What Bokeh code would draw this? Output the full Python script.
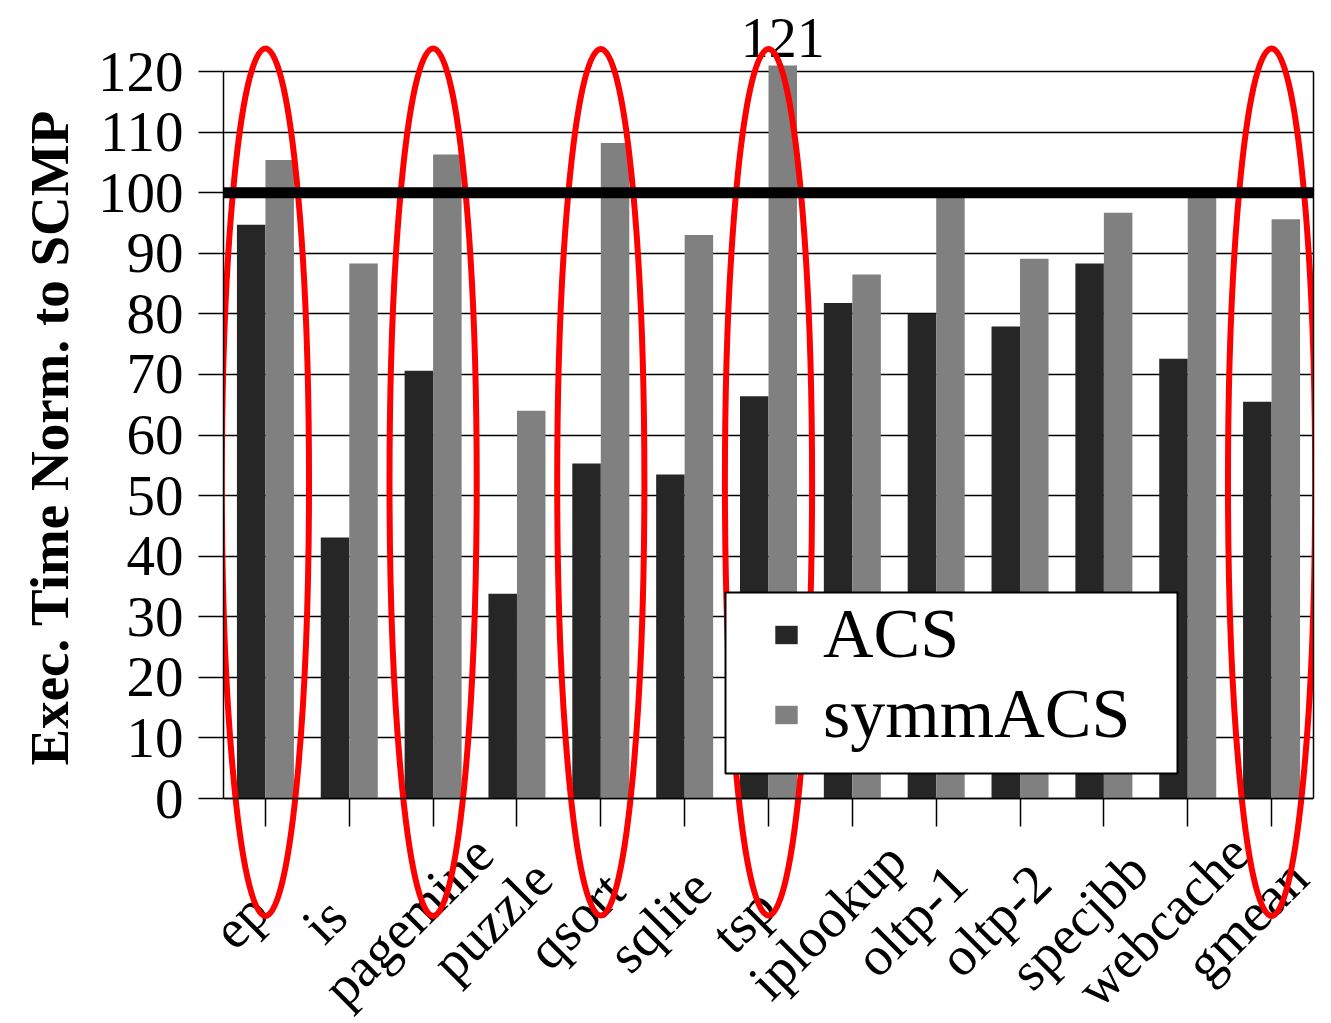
import numpy as np
from bokeh.plotting import figure
from bokeh.models import (Range1d, FixedTicker, Span, Legend, LegendItem, LinearAxis,
                          BoxAnnotation, ColumnDataSource, Grid, Title)
from bokeh.core.properties import value
from bokeh.embed import file_html
from bokeh.resources import INLINE

categories = ["ep", "is", "pagemine", "puzzle", "qsort", "sqlite", "tsp",
              "iplookup", "oltp-1", "oltp-2", "specjbb", "webcache", "gmean"]
acs = [94.7, 43.1, 70.6, 33.8, 55.3, 53.5, 66.4, 81.8, 80.0, 77.9, 88.3, 72.6, 65.5]
symm_acs = [105.4, 88.3, 106.3, 64.0, 108.2, 93.0, 121.0, 86.5, 99.3, 89.1, 96.7, 99.3, 95.6]
y_ticks = list(range(0, 121, 10))
highlighted = ["ep", "pagemine", "qsort", "tsp", "gmean"]
baseline_value = 100
y_title = "Exec. Time Norm. to SCMP"

SERIF = "Liberation Serif"
DARK = "#262626"
GRAY = "#808080"

# layout (canvas pixels)
W, H = 1331, 1023
LEFT, RIGHT_BORDER, BOTTOM_BORDER = 223, 18, 0
Y0_PX, Y120_PX = 798, 71            # canvas rows of value 0 and value 120
frame_h = H - BOTTOM_BORDER
s = (Y0_PX - Y120_PX) / 120.0       # px per unit
y_end = 120 + Y120_PX / s
y_start = -(frame_h - Y0_PX) / s

n = len(categories)
centers = np.arange(n) + 0.5
src = ColumnDataSource(dict(x_acs=centers - 0.17, x_sym=centers + 0.17,
                            acs=acs, sym=symm_acs, cat=categories, xc=centers))

p = figure(width=W, height=H, output_backend="svg", toolbar_location=None,
           x_range=Range1d(0, n), y_range=Range1d(y_start, y_end),
           min_border_left=LEFT, min_border_right=RIGHT_BORDER, min_border_top=0,
           min_border_bottom=BOTTOM_BORDER, x_axis_location=None, y_axis_location=None)
p.background_fill_color = "white"
p.border_fill_color = "white"
p.outline_line_color = None
for g in p.grid:
    g.visible = False

r1 = p.vbar(x="x_acs", top="acs", width=0.34, source=src, fill_color=DARK, line_color=None)
r2 = p.vbar(x="x_sym", top="sym", width=0.34, source=src, fill_color=GRAY, line_color=None)

# left y axis
yax = LinearAxis(bounds=(0, 120), ticker=FixedTicker(ticks=y_ticks))
yax.major_tick_out = 25
yax.major_tick_in = 0
yax.minor_tick_line_color = None
yax.major_tick_line_width = 1.5
yax.major_tick_line_color = "black"
yax.axis_line_width = 1.5
yax.axis_line_color = "black"
yax.major_label_text_font = SERIF
yax.major_label_text_font_size = "57px"
yax.major_label_text_color = "black"
yax.major_label_standoff = 15
p.add_layout(yax, "left")

# y axis title
p.add_layout(Title(text=y_title, align="left", offset=258, standoff=30,
                   text_font=SERIF, text_font_style="bold", text_font_size="55px",
                   text_color="black"), "left")

# right frame line
rax = LinearAxis(bounds=(0, 120), ticker=FixedTicker(ticks=[]))
rax.major_tick_out = 0
rax.major_tick_in = 0
rax.minor_tick_line_color = None
rax.major_label_standoff = 0
rax.axis_line_width = 1.5
rax.axis_line_color = "black"
p.add_layout(rax, "right")

# x axis at value 0
xax = LinearAxis(fixed_location=0, ticker=FixedTicker(ticks=list(centers)))
xax.major_tick_out = 28
xax.major_tick_in = 0
xax.minor_tick_line_color = None
xax.major_tick_line_width = 1.5
xax.major_tick_line_color = "black"
xax.axis_line_width = 1.5
xax.axis_line_color = "black"
xax.major_label_standoff = 0
xax.major_label_overrides = {float(c): "" for c in centers}
p.add_layout(xax, "below")

# horizontal grid lines
grid = Grid(dimension=1, ticker=yax.ticker, axis=yax, grid_line_color="black", grid_line_width=1.5)
p.add_layout(grid)

# thick baseline at 100
p.add_layout(Span(location=baseline_value, dimension="width", line_color="black", line_width=11))

# rotated category labels (centered)
p.text(x="xc", y=(Y0_PX - 920) / s, text="cat", source=src, angle=np.pi / 4,
       x_offset=-25, text_align="center", text_baseline="middle",
       text_font=value(SERIF), text_font_size="55px", text_color="black")

# value label for the clipped tsp bar
tsp_i = categories.index("tsp")
p.text(x=[centers[tsp_i] + 0.17], y=[symm_acs[tsp_i]], text=[f"{symm_acs[tsp_i]:.0f}"],
       y_offset=-27, text_align="center", text_baseline="alphabetic",
       text_font=value(SERIF), text_font_size="56px", text_color="black")

# legend box + legend
p.add_layout(BoxAnnotation(left=5.987, right=11.378, bottom=4.13, top=34.0,
                           fill_color="white", fill_alpha=1.0,
                           line_color="black", line_width=2, line_alpha=1.0))
legend = Legend(items=[LegendItem(label="ACS", renderers=[r1]),
                       LegendItem(label="symmACS", renderers=[r2])],
                location=(549, 44 + (frame_h - Y0_PX)), padding=0, margin=0, spacing=0,
                glyph_width=28, glyph_height=23, label_standoff=23,
                label_text_font=SERIF, label_text_font_size="70px", label_text_color="black",
                border_line_color=None, background_fill_alpha=0.0)
p.add_layout(legend)

# red highlight ellipses
hl_x = [centers[categories.index(c)] for c in highlighted]
p.ellipse(x=hl_x, y=52.2, width=1.04, height=143.2, fill_alpha=0.0,
          line_color="#ff0000", line_width=6)

open("out.html", "w").write(file_html(p, INLINE))
